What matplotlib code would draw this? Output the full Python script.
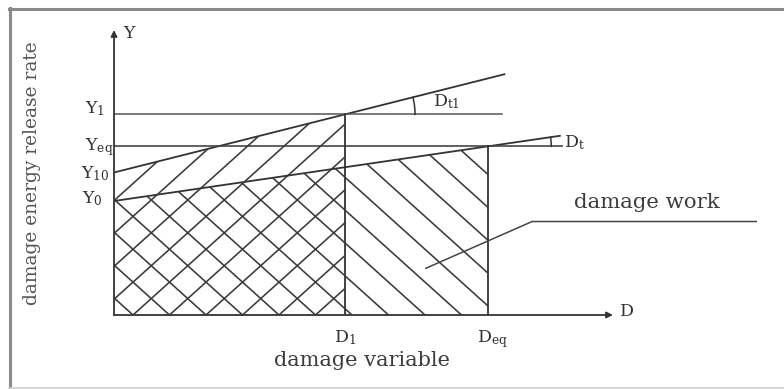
import numpy as np
import matplotlib.pyplot as plt
from matplotlib.lines import Line2D
from matplotlib.patches import Polygon

plt.rcParams['font.family'] = ['DejaVu Serif']
plt.rcParams['mathtext.fontset'] = 'dejavuserif'

# Hodnoty schématu (libovolné jednotky)
D_1 = 1.0
D_EQ = 1.62
Y_0 = 1.0
Y_10 = 1.25
Y_1 = 1.76
Y_EQ = 1.48

D_MAX = 2.16
Y_MAX = 2.5

y_ticks = [Y_1, Y_EQ, Y_10, Y_0]
y_tick_labels = [r'$\mathrm{Y}_{1}$', r'$\mathrm{Y}_{\mathrm{eq}}$',
                 r'$\mathrm{Y}_{10}$', r'$\mathrm{Y}_{0}$']
d_ticks = [D_1, D_EQ]
d_tick_labels = [r'$\mathrm{D}_{1}$', r'$\mathrm{D}_{\mathrm{eq}}$']

INK = '#333333'
W, H = 784, 389


def fx(x):
    return x / W


def fy(y):
    return 1 - y / H


fig = plt.figure(figsize=(W / 100, H / 100), dpi=100)
ax = fig.add_axes([fx(114), fy(315), (613 - 114) / W, (315 - 30) / H])
ax.set_xlim(0, D_MAX)
ax.set_ylim(0, Y_MAX)
ax.axis('off')

# pixely na jednotku
sx = (613 - 114) / D_MAX
sy = (315 - 30) / Y_MAX

# osy se šipkami
ax.annotate('', xy=(D_MAX, 0), xytext=(0, 0), annotation_clip=False,
            arrowprops=dict(arrowstyle='-|>', lw=1.3, color=INK, mutation_scale=9,
                            shrinkA=0, shrinkB=0))
ax.annotate('', xy=(0, Y_MAX), xytext=(0, 0), annotation_clip=False,
            arrowprops=dict(arrowstyle='-|>', lw=1.3, color=INK, mutation_scale=9,
                            shrinkA=0, shrinkB=0))

# přímky Y(D)
k_low = (Y_EQ - Y_0) / D_EQ
k_up = (Y_1 - Y_10) / D_1
d_low_end = 1.93
d_up_end = 1.69
ax.plot([0, d_low_end], [Y_0, Y_0 + k_low * d_low_end], color=INK, lw=1.3)
ax.plot([0, d_up_end], [Y_10, Y_10 + k_up * d_up_end], color=INK, lw=1.3)

# vodorovné úrovně
ax.plot([0, 1.68], [Y_1, Y_1], color='#555555', lw=1.1)
ax.plot([0, 1.94], [Y_EQ, Y_EQ], color='#444444', lw=1.2)

# svislé hranice
ax.plot([D_1, D_1], [0, Y_1], color=INK, lw=1.3)
ax.plot([D_EQ, D_EQ], [0, Y_EQ], color=INK, lw=1.3)

# šrafování
area_low = Polygon([(0, 0), (0, Y_0), (D_EQ, Y_EQ), (D_EQ, 0)],
                   closed=True, fill=False, edgecolor='none')
area_up = Polygon([(0, 0), (0, Y_10), (D_1, Y_1), (D_1, 0)],
                  closed=True, fill=False, edgecolor='none')
ax.add_patch(area_low)
ax.add_patch(area_up)

step = 36.5
shift = 19
theta = np.radians(42)
L = 700
for b in np.arange(-30 * step, 30 * step, step) + shift:
    # "\" pod dolní přímkou
    xs = np.array([b + L * np.cos(theta), b - L * np.cos(theta)])
    ys = np.array([-L * np.sin(theta), L * np.sin(theta)])
    ln, = ax.plot(xs / sx, ys / sy, color='#3a3a3a', lw=1.15)
    ln.set_clip_path(area_low)
    # "/" pod horní přímkou
    xs = np.array([b - L * np.cos(theta), b + L * np.cos(theta)])
    ln, = ax.plot(xs / sx, ys / sy, color='#3a3a3a', lw=1.15)
    ln.set_clip_path(area_up)


# úhlové oblouky
def arc(cx, cy, r_px, ang):
    t = np.linspace(0, ang, 30)
    ax.plot(cx + r_px * np.cos(t) / sx, cy + r_px * np.sin(t) / sy,
            color=INK, lw=1.1, clip_on=False)


arc(D_1, Y_1, 70, np.arctan(k_up * sy / sx))
arc(D_EQ, Y_EQ, 63, np.arctan(k_low * sy / sx))

ax.text(1.44, 1.87, r'$\mathrm{D}_{\mathrm{t1}}$', fontsize=12.5, color=INK,
        ha='center', va='center')
ax.text(1.95, 1.51, r'$\mathrm{D}_{\mathrm{t}}$', fontsize=12.5, color=INK,
        ha='left', va='center')

# popisky os
offsets = [(-9, 1), (-1, -4), (-5, -6), (-11, -2)]
for yv, lab, (dx, dy) in zip(y_ticks, y_tick_labels, offsets):
    ax.annotate(lab, xy=(0, yv), xytext=(dx * 0.72, dy * 0.72),
                textcoords='offset points', ha='right', va='baseline',
                fontsize=12.5, color=INK, annotation_clip=False)
for dv, lab in zip(d_ticks, d_tick_labels):
    ax.annotate(lab, xy=(dv, 0), xytext=(-11 * 0.72, -27 * 0.72),
                textcoords='offset points', ha='left', va='baseline',
                fontsize=12.5, color=INK, annotation_clip=False)

fig.text(fx(123), fy(38), 'Y', fontsize=12.5, color=INK, ha='left', va='baseline')
fig.text(fx(620), fy(316), 'D', fontsize=12.5, color=INK, ha='left', va='baseline')

fig.text(fx(362), fy(361), 'damage variable', fontsize=15, color='#3c3c3c',
         ha='center', va='center')
fig.text(fx(32), fy(173), 'damage energy release rate', fontsize=13.4,
         color='#555555', ha='center', va='center', rotation=90)
fig.text(fx(647), fy(202), 'damage work', fontsize=15.3, color='#3c3c3c',
         ha='center', va='center')

# odkazová čára
work_pt = (1.35, 0.41)
knee = (1.81, 0.82)
ax.plot([work_pt[0], knee[0], 2.78], [work_pt[1], knee[1], knee[1]],
        color='#444444', lw=1.1, clip_on=False)

# rámeček
fig.add_artist(Line2D([fx(9.5), fx(9.5)], [fy(8), fy(389)], color='#8a8a8a', lw=2.2))
fig.add_artist(Line2D([fx(9), fx(784)], [fy(9), fy(9)], color='#8a8a8a', lw=2.2))
fig.add_artist(Line2D([fx(9), fx(784)], [fy(388), fy(388)], color='#d0d0d0', lw=1.2))

fig.savefig('out.png', dpi=100, facecolor='white')
